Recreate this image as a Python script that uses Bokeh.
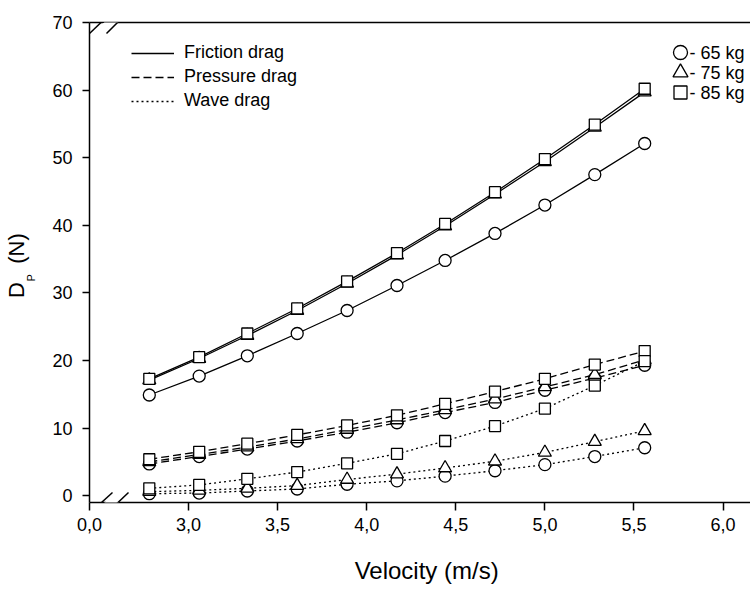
from bokeh.plotting import figure
from bokeh.models import (Range1d, FixedTicker, LinearAxis, Legend, LegendItem,
                          Arrow, PolyAnnotation)
from bokeh.embed import file_html
from bokeh.resources import INLINE
from bokeh.core.properties import value

# ---------------- data ----------------
velocity = [2.78, 3.06, 3.33, 3.61, 3.89, 4.17, 4.44, 4.72, 5.00, 5.28, 5.56]

friction_65 = [14.9, 17.7, 20.7, 24.0, 27.4, 31.1, 34.8, 38.8, 43.0, 47.5, 52.1]
friction_75 = [17.1, 20.3, 23.7, 27.4, 31.4, 35.6, 39.9, 44.6, 49.4, 54.5, 59.7]
friction_85 = [17.3, 20.5, 24.0, 27.7, 31.7, 35.9, 40.2, 44.9, 49.8, 54.9, 60.2]

pressure_65 = [4.7, 5.8, 6.9, 8.1, 9.4, 10.8, 12.3, 13.8, 15.6, 17.4, 19.3]
pressure_75 = [5.0, 6.1, 7.2, 8.4, 9.8, 11.2, 12.7, 14.3, 16.1, 17.9, 20.1]
pressure_85 = [5.4, 6.5, 7.7, 9.0, 10.4, 11.9, 13.6, 15.4, 17.3, 19.4, 21.4]

wave_65 = [0.3, 0.4, 0.7, 1.0, 1.7, 2.2, 2.9, 3.7, 4.6, 5.8, 7.1]
wave_75 = [0.6, 0.8, 1.1, 1.5, 2.4, 3.2, 4.1, 5.1, 6.4, 8.0, 9.6]
wave_85 = [1.1, 1.6, 2.5, 3.5, 4.8, 6.2, 8.1, 10.3, 12.9, 16.3, 19.9]

x_ticks = [3.0, 3.5, 4.0, 4.5, 5.0, 5.5, 6.0]
x_tick_labels = ["3,0", "3,5", "4,0", "4,5", "5,0", "5,5", "6,0"]
origin_label = "0,0"
y_ticks = [0, 10, 20, 30, 40, 50, 60, 70]

x_title = "Velocity (m/s)"
y_title_main = "D\u00a0\u00a0\u00a0(N)"   # gap left for the subscript
y_title_sub = "P"
drag_names = ["Friction drag", "Pressure drag", "Wave drag"]
mass_names = ["- 65 kg", "- 75 kg", "- 85 kg"]

# ---------------- layout ----------------
FONT = "Liberation Sans"
NB = "\u00a0"
W, H = 750, 590
BL, BR, BT, BB = 89, 0, 22, 88
FW, FH = W - BL - BR, H - BT - BB  # frame size in px
X0, X1 = 2.4444, 6.1538            # broken axis: left edge shows "0,0"
Y0, Y1 = -1.0, 70.0

def xd(px):   # page px -> data x
    return X0 + (px - BL) * (X1 - X0) / FW

def yd(py):   # page px -> data y
    return Y1 - (py - BT) * (Y1 - Y0) / FH

p = figure(width=W, height=H, output_backend="svg", toolbar_location=None,
           x_range=Range1d(X0, X1), y_range=Range1d(Y0, Y1),
           min_border_left=BL, min_border_right=BR, min_border_top=BT,
           min_border_bottom=BB, x_axis_location=None, y_axis_location=None)
p.outline_line_color = None
p.xgrid.visible = False
p.ygrid.visible = False
p.background_fill_color = "white"
p.border_fill_color = "white"

# axes
xax = LinearAxis(ticker=FixedTicker(ticks=[X0] + x_ticks))
xax.major_label_overrides = dict([(X0, origin_label)] + list(zip(x_ticks, x_tick_labels)))
xax.axis_label = NB + NB + x_title
yax = LinearAxis(ticker=FixedTicker(ticks=y_ticks))
for ax in (xax, yax):
    ax.axis_line_width = 1.5
    ax.axis_line_color = "black"
    ax.major_tick_line_width = 1.5
    ax.major_tick_line_color = "black"
    ax.major_tick_in = 0
    ax.minor_tick_line_color = None
    ax.major_label_text_font = FONT
    ax.major_label_text_font_size = "18px"
    ax.major_label_text_color = "black"
    ax.axis_label_text_font = FONT
    ax.axis_label_text_font_style = "normal"
    ax.axis_label_text_font_size = "24px"
    ax.axis_label_text_color = "black"
xax.major_tick_out = 8
xax.major_label_standoff = 7
xax.axis_label_standoff = 23
yax.major_tick_out = 7
yax.major_label_standoff = 10
p.add_layout(xax, "below")
p.add_layout(yax, "left")

# y title: subscript axis label (nearer the ticks) and main label further out
def title_axis(text, size, standoff):
    return LinearAxis(ticker=FixedTicker(ticks=[]), axis_line_color=None,
                      major_tick_out=0, major_tick_in=0, minor_tick_line_color=None,
                      major_label_standoff=0, major_label_text_font_size="0px",
                      axis_label=text, axis_label_standoff=standoff,
                      axis_label_text_font=FONT, axis_label_text_font_size=size,
                      axis_label_text_font_style="normal", axis_label_text_color="black")

p.add_layout(title_axis(y_title_sub + NB * 10, "11px", 13), "left")
p.add_layout(title_axis(y_title_main + NB, "22px", -7), "left")

top = LinearAxis(ticker=FixedTicker(ticks=[]), axis_line_width=1.5,
                 major_tick_out=0, major_tick_in=0, minor_tick_line_color=None,
                 major_label_standoff=0, axis_label_standoff=0,
                 major_label_text_font_size="0px")
p.add_layout(top, "above")

# ---------------- series ----------------
LW = 1.3
dashes = ["solid", "8 4", "2 3"]
groups = [(friction_65, friction_75, friction_85),
          (pressure_65, pressure_75, pressure_85),
          (wave_65, wave_75, wave_85)]
markers = [("circle", 12), ("triangle", 13), ("square", 11)]

line_renderers = []
for grp, dash in zip(groups, dashes):
    rs = []
    for ys in grp:
        rs.append(p.line(velocity, ys, line_color="black", line_width=LW, line_dash=dash))
    line_renderers.append(rs)

for grp in groups:
    for ys, (mk, sz) in zip(grp, markers):
        p.scatter(velocity, ys, marker=mk, size=sz, fill_color="white",
                  line_color="black", line_width=LW)

# legend for line styles
legend = Legend(items=[LegendItem(label=n, renderers=[rs[0]]) for n, rs in zip(drag_names, line_renderers)],
                location=(42, 391), orientation="vertical",
                border_line_color=None, background_fill_alpha=0, padding=0, margin=0,
                glyph_width=43, glyph_height=20, label_height=20, label_standoff=10,
                spacing=3, label_text_font=FONT, label_text_font_size="18px",
                label_text_color="black")
p.add_layout(legend)

# marker key
for (mk, sz), name, py in zip(markers, mass_names, [52, 72, 92]):
    p.scatter([xd(680)], [yd(py)], marker=mk, size=sz + 2, fill_color="white",
              line_color="black", line_width=LW)
    p.text([xd(689)], [yd(py)], text=[name], text_font=value(FONT),
           text_font_size="18px", text_baseline="middle", text_align="left",
           text_color="black")

# axis-break marks
for y_lo, y_hi in [(513, 492), (33, 11)]:
    p.add_layout(PolyAnnotation(xs=[xd(92), xd(106), xd(129), xd(115)],
                                ys=[yd(y_lo), yd(y_lo), yd(y_hi), yd(y_hi)],
                                fill_color="white", fill_alpha=1, line_color=None,
                                level="overlay"))
    for x_lo, x_hi in [(89, 112), (106, 128)]:
        p.add_layout(Arrow(start=None, end=None, x_start=xd(x_lo), y_start=yd(y_lo),
                           x_end=xd(x_hi), y_end=yd(y_hi), line_width=1.5,
                           line_color="black", level="overlay"))

open("out.html", "w").write(file_html(p, INLINE))
